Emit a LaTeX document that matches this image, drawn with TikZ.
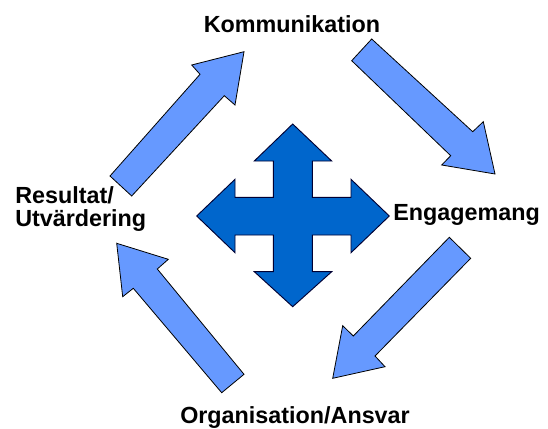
\documentclass[tikz,border=0pt]{standalone}
\usepackage{fontspec}
\setmainfont{Liberation Sans}
\definecolor{lightarrow}{HTML}{6699FF}
\definecolor{crossblue}{HTML}{0066CC}
\begin{document}
\begin{tikzpicture}[x=0.75pt,y=-0.75pt,
  blockarrow/.style={fill=lightarrow,draw=black,line width=0.6pt,line join=miter},
  crossshape/.style={fill=crossblue,draw=black!80!blue,line width=0.7pt,line join=miter},
  label/.style={inner sep=0pt,font=\fontsize{17.5}{21}\selectfont\bfseries}]
\useasboundingbox (0,0) rectangle (548,428);
% block arrows
\draw[blockarrow] (110,176) -- (200,74.3) -- (191.7,65) -- (244,51.7) -- (235,105) -- (224.3,95.7) -- (131.7,196) -- cycle;
\draw[blockarrow] (371.7,39) -- (472.7,131.7) -- (483.3,121.7) -- (495,174) -- (441.7,165) -- (450.7,155.7) -- (351.7,60.7) -- cycle;
\draw[blockarrow] (449.3,237.3) -- (470.7,258.3) -- (375,356) -- (385,366.7) -- (332.7,378.3) -- (342.7,325.7) -- (353.3,336) -- cycle;
\draw[blockarrow] (244,374.3) -- (157.3,269) -- (168.3,259.3) -- (116.7,243.3) -- (122.7,296.7) -- (133.3,288.3) -- (221.7,392.7) -- cycle;
% central cross
\draw[crossshape] (292.7,124) -- (331.7,161) -- (312.3,161) -- (312.3,197.3) -- (351,197.3) -- (351,179.3) -- (389.3,216)
  -- (351,252.7) -- (351,235) -- (312.3,235) -- (312.3,271.7) -- (331.7,271.7) -- (292.7,306.7)
  -- (254.3,271.7) -- (273.3,271.7) -- (273.3,235) -- (235,235) -- (235,252.7) -- (196.7,216)
  -- (235,179.3) -- (235,197.3) -- (273.3,197.3) -- (273.3,161) -- (254.3,161) -- cycle;
% labels
\node[label,anchor=base] (komm) at (292,33) {Kommunikation};
\node[label,anchor=base west] (eng) at (393,220) {Engagemang};
\node[label,anchor=base] (org) at (295,423) {Organisation/Ansvar};
\node[label,anchor=base west] (res1) at (15,203) {Resultat/};
\node[label,anchor=base west] (res2) at (15,226) {Utvärdering};
\end{tikzpicture}
\end{document}
